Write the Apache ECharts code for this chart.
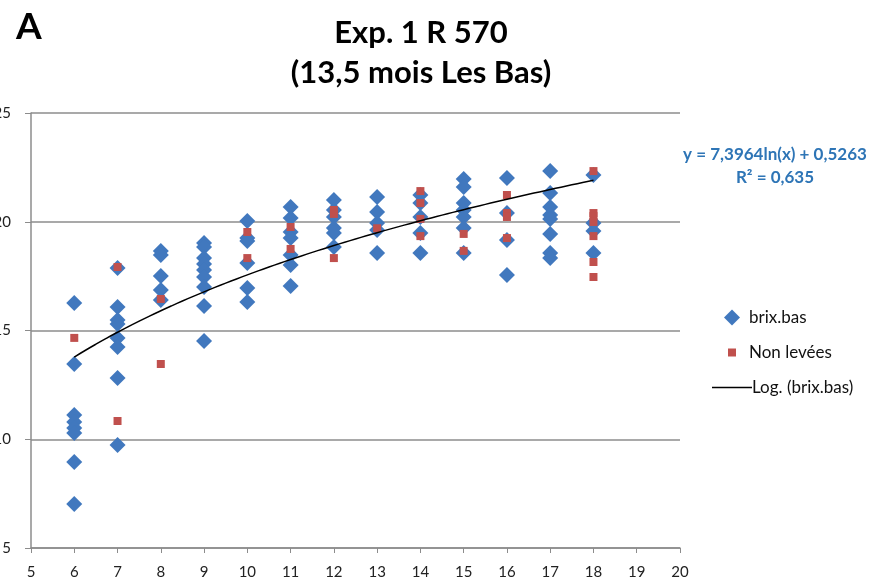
<!DOCTYPE html>
<html>
<head>
<meta charset="utf-8">
<script src="https://cdn.jsdelivr.net/npm/echarts@6/dist/echarts.min.js"></script>
<style>
  html, body { margin: 0; padding: 0; background: #fff; }
  #main { width: 872px; height: 584px; }
</style>
</head>
<body>
<div id="main"></div>
<script>
// brix.bas points: [age, brix]
var brixBas = [
  [6, 16.26], [6, 13.46], [6, 11.11], [6, 10.79], [6, 10.52], [6, 10.29], [6, 8.95], [6, 7.02],
  [7, 17.87], [7, 16.08], [7, 15.48], [7, 15.30], [7, 14.66], [7, 14.24], [7, 12.82], [7, 9.74],
  [8, 18.66], [8, 18.47], [8, 17.51], [8, 16.86], [8, 16.40],
  [9, 19.02], [9, 18.84], [9, 18.33], [9, 18.06], [9, 17.78], [9, 17.46], [9, 17.00], [9, 16.13], [9, 14.52],
  [10, 20.03], [10, 19.25], [10, 19.11], [10, 18.10], [10, 16.95], [10, 16.31],
  [11, 20.68], [11, 20.17], [11, 19.53], [11, 19.25], [11, 18.47], [11, 18.01], [11, 17.05],
  [12, 21.00], [12, 20.54], [12, 20.22], [12, 19.71], [12, 19.48], [12, 18.84],
  [13, 21.14], [13, 20.45], [13, 19.94], [13, 19.62], [13, 18.56],
  [14, 21.23], [14, 20.86], [14, 20.22], [14, 19.48], [14, 18.56],
  [15, 21.97], [15, 21.60], [15, 20.86], [15, 20.54], [15, 20.22], [15, 19.71], [15, 18.56],
  [16, 22.01], [16, 20.40], [16, 19.16], [16, 17.55],
  [17, 22.33], [17, 21.32], [17, 20.68], [17, 20.31], [17, 20.13], [17, 19.44], [17, 18.56], [17, 18.33],
  [18, 22.15], [18, 19.94], [18, 19.57], [18, 18.56]
];

// Non levées points
var nonLevees = [
  [6, 14.66],
  [7, 17.92], [7, 10.84],
  [8, 16.45], [8, 13.46],
  [10, 19.53], [10, 18.33],
  [11, 19.76], [11, 18.75],
  [12, 20.54], [12, 20.36], [12, 18.33],
  [13, 19.70],
  [14, 21.41], [14, 20.86], [14, 20.13], [14, 19.34],
  [15, 19.44], [15, 18.66],
  [16, 21.23], [16, 20.40], [16, 20.22], [16, 19.25],
  [18, 22.33], [18, 20.40], [18, 20.26], [18, 19.99], [18, 19.34], [18, 18.15], [18, 17.46]
];

// trend line as printed on the chart: y = a ln(x) + b
var trendA = 7.3964;
var trendB = 0.5263;
var trendRange = [6, 18];

var xTicks = [5, 20, 1];
var yTicks = [5, 25, 5];

var trendLine = [];
for (var t = trendRange[0]; t <= trendRange[1] + 1e-9; t += 0.25) {
  trendLine.push([t, trendA * Math.log(t) + trendB]);
}

var font = 'Lato, "Open Sans", sans-serif';
var legendText = { fontSize: 17, color: '#111', fontFamily: font };
var chart = echarts.init(document.getElementById('main'));
var option = {
  backgroundColor: '#fff',
  animation: false,
  textStyle: { fontFamily: font },
  title: [{
    text: 'A',
    left: 11,
    top: 4,
    textStyle: { fontSize: 37, fontWeight: 'bold', color: '#000', fontFamily: font }
  }, {
    text: 'Exp. 1 R 570\n(13,5 mois Les Bas)',
    left: 416,
    top: 8,
    textAlign: 'center',
    textStyle: { fontSize: 31, fontWeight: 'bold', color: '#000', lineHeight: 40, fontFamily: font }
  }],
  grid: { left: 31, right: 192, top: 113, bottom: 36, outerBoundsMode: 'none', containLabel: false },
  xAxis: {
    type: 'value',
    min: xTicks[0],
    max: xTicks[1],
    interval: xTicks[2],
    axisLine: { lineStyle: { color: '#8c8c8c', width: 1.5 } },
    axisTick: { show: true, length: 5, lineStyle: { color: '#8c8c8c' } },
    axisLabel: { fontSize: 15, color: '#222', margin: 17, fontFamily: font },
    splitLine: { show: false }
  },
  yAxis: {
    type: 'value',
    min: yTicks[0],
    max: yTicks[1],
    interval: yTicks[2],
    axisLine: { show: true, lineStyle: { color: '#8c8c8c', width: 1.5 } },
    axisTick: { show: true, length: 6, lineStyle: { color: '#8c8c8c' } },
    axisLabel: { fontSize: 15, color: '#222', margin: 20, fontFamily: font },
    splitLine: { show: true, lineStyle: { color: '#8c8c8c', width: 1.5 } }
  },
  legend: [{
    data: [{ name: 'brix.bas', icon: 'diamond' }],
    left: 719, top: 304,
    itemWidth: 16, itemHeight: 16, itemGap: 0,
    textStyle: Object.assign({ padding: [0, 0, 0, 4] }, legendText)
  }, {
    data: [{ name: 'Non levées', icon: 'rect' }],
    left: 723, top: 339,
    itemWidth: 8, itemHeight: 8,
    textStyle: Object.assign({ padding: [0, 0, 0, 8] }, legendText)
  }, {
    data: [{ name: 'Log. (brix.bas)', icon: 'rect' }],
    left: 707, top: 374,
    itemWidth: 40, itemHeight: 1.5,
    itemStyle: { color: '#000' },
    textStyle: Object.assign({ padding: [0, 0, 0, -5] }, legendText)
  }],
  graphic: [{
    type: 'text',
    x: 775,
    y: 155,
    style: {
      text: 'y = 7,3964ln(x) + 0,5263',
      align: 'center', verticalAlign: 'middle',
      fontSize: 17, fontWeight: 'bold', fill: '#2e75b6', fontFamily: font
    }
  }, {
    type: 'text',
    x: 775,
    y: 178,
    style: {
      text: 'R² = 0,635',
      align: 'center', verticalAlign: 'middle',
      fontSize: 17, fontWeight: 'bold', fill: '#2e75b6', fontFamily: font
    }
  }],
  series: [{
    name: 'brix.bas',
    type: 'scatter',
    symbol: 'diamond',
    symbolSize: 16,
    itemStyle: { color: '#4178be', opacity: 1 },
    data: brixBas,
    z: 2
  }, {
    name: 'Non levées',
    type: 'scatter',
    symbol: 'rect',
    symbolSize: 8,
    itemStyle: { color: '#c0504d', opacity: 1 },
    data: nonLevees,
    z: 3
  }, {
    name: 'Log. (brix.bas)',
    type: 'line',
    symbol: 'none',
    smooth: true,
    lineStyle: { color: '#000', width: 1.5 },
    itemStyle: { color: '#000' },
    data: trendLine,
    z: 4
  }]
};
chart.setOption(option);
</script>
</body>
</html>
